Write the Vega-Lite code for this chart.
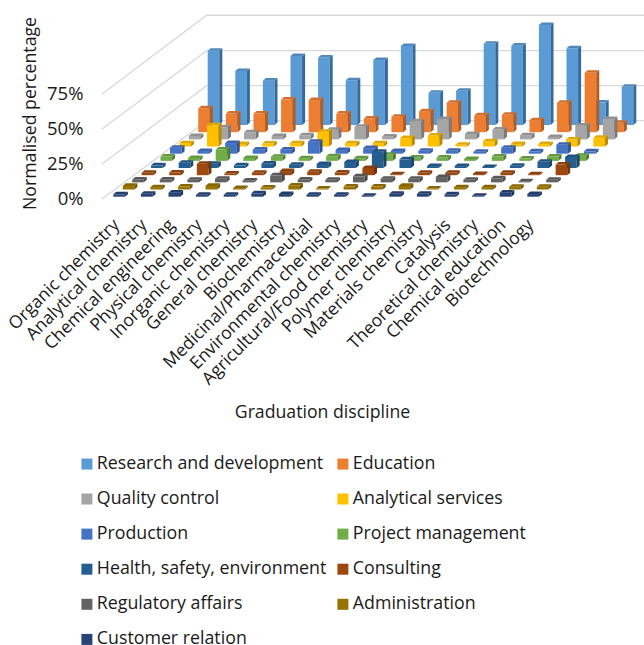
{"$schema":"https://vega.github.io/schema/vega-lite/v6.json","width":556,"height":203,"autosize":"none","padding":{"left":88,"top":0,"right":0,"bottom":442},"background":"white","config":{"view":{"stroke":null},"font":"Open Sans","axis":{"labelFont":"Open Sans","titleFont":"Open Sans"},"legend":{"labelFont":"Open Sans"}},
"encoding":{"x":{"field":"xu","type":"quantitative","scale":{"domain":[-0.917,19.228],"nice":false,"zero":false},"axis":{"values":[0,1,2,3,4,5,6,7,8,9,10,11,12,13,14,15],"labelExpr":"['Organic chemistry','Analytical chemistry','Chemical engineering','Physical chemistry','Inorganic chemistry','General chemistry','Biochemistry','Medicinal/Pharmaceutial','Environmental chemistry','Agricultural/Food chemistry','Polymer chemistry','Materials chemistry','Catalysis','Theoretical chemistry','Chemical education','Biotechnology'][datum.value]","labelAngle":-45,"labelAlign":"right","labelBaseline":"middle","labelOffset":3,"labelPadding":19,"labelFontSize":17.5,"labelColor":"#1a1a1a","labelOverlap":false,"labelBound":false,"labelFlush":false,"labelLimit":400,"grid":false,"ticks":false,"domain":false,"title":"Graduation discipline","titleFontSize":17.7,"titleFontWeight":"normal","titleColor":"#1a1a1a","titleX":234,"titleY":209,"titleAlign":"center","titleBaseline":"middle"}},"y":{"field":"yv","type":"quantitative","scale":{"domain":[-4.5,140.5],"nice":false,"zero":false},"axis":{"values":[0,25,50,75],"labelExpr":"datum.value + '%'","labelFontSize":18.5,"labelColor":"#1a1a1a","labelPadding":5,"labelOffset":1.5,"grid":false,"ticks":false,"domain":false,"title":"Normalised percentage","titleFontSize":17.7,"titleFontWeight":"normal","titleColor":"#1a1a1a","titleX":-58,"titleY":113,"titleAlign":"center","titleBaseline":"middle"}}},
"layer":[{"data":{"values":[{"level":0,"xu":-0.42,"yv":-1.86},{"level":0,"xu":3.384,"yv":54.3},{"level":0,"xu":19.228,"yv":54.3},{"level":25,"xu":-0.42,"yv":23.14},{"level":25,"xu":3.384,"yv":79.3},{"level":25,"xu":19.228,"yv":79.3},{"level":50,"xu":-0.42,"yv":48.14},{"level":50,"xu":3.384,"yv":104.3},{"level":50,"xu":19.228,"yv":104.3},{"level":75,"xu":-0.42,"yv":73.14},{"level":75,"xu":3.384,"yv":129.6},{"level":75,"xu":19.228,"yv":129.6}]},"mark":{"type":"line","color":"#d9d9d9","strokeWidth":1.3},"encoding":{"detail":{"field":"level"}}},
{"data":{"values":[
{"d":"Organic chemistry","s":"Research and development","v":53},{"d":"Analytical chemistry","s":"Research and development","v":38.6},{"d":"Chemical engineering","s":"Research and development","v":31.7},{"d":"Physical chemistry","s":"Research and development","v":49.3},{"d":"Inorganic chemistry","s":"Research and development","v":48.3},{"d":"General chemistry","s":"Research and development","v":32},{"d":"Biochemistry","s":"Research and development","v":46.4},{"d":"Medicinal/Pharmaceutial","s":"Research and development","v":56.4},{"d":"Environmental chemistry","s":"Research and development","v":23},{"d":"Agricultural/Food chemistry","s":"Research and development","v":24.5},{"d":"Polymer chemistry","s":"Research and development","v":58},{"d":"Materials chemistry","s":"Research and development","v":56.7},{"d":"Catalysis","s":"Research and development","v":71.4},{"d":"Theoretical chemistry","s":"Research and development","v":54.8},{"d":"Chemical education","s":"Research and development","v":16},{"d":"Biotechnology","s":"Research and development","v":27.4},
{"d":"Organic chemistry","s":"Education","v":17},{"d":"Analytical chemistry","s":"Education","v":13.3},{"d":"Chemical engineering","s":"Education","v":13.3},{"d":"Physical chemistry","s":"Education","v":23.3},{"d":"Inorganic chemistry","s":"Education","v":22.9},{"d":"General chemistry","s":"Education","v":13.3},{"d":"Biochemistry","s":"Education","v":9.8},{"d":"Medicinal/Pharmaceutial","s":"Education","v":11},{"d":"Environmental chemistry","s":"Education","v":15},{"d":"Agricultural/Food chemistry","s":"Education","v":21},{"d":"Polymer chemistry","s":"Education","v":12},{"d":"Materials chemistry","s":"Education","v":12.4},{"d":"Catalysis","s":"Education","v":8.6},{"d":"Theoretical chemistry","s":"Education","v":21},{"d":"Chemical education","s":"Education","v":42.4},{"d":"Biotechnology","s":"Education","v":6.7},
{"d":"Organic chemistry","s":"Quality control","v":2.4},{"d":"Analytical chemistry","s":"Quality control","v":8.6},{"d":"Chemical engineering","s":"Quality control","v":5},{"d":"Physical chemistry","s":"Quality control","v":2.4},{"d":"Inorganic chemistry","s":"Quality control","v":2.9},{"d":"General chemistry","s":"Quality control","v":6.9},{"d":"Biochemistry","s":"Quality control","v":9},{"d":"Medicinal/Pharmaceutial","s":"Quality control","v":2.1},{"d":"Environmental chemistry","s":"Quality control","v":13},{"d":"Agricultural/Food chemistry","s":"Quality control","v":14.5},{"d":"Polymer chemistry","s":"Quality control","v":3.8},{"d":"Materials chemistry","s":"Quality control","v":7},{"d":"Catalysis","s":"Quality control","v":3},{"d":"Theoretical chemistry","s":"Quality control","v":1.7},{"d":"Chemical education","s":"Quality control","v":9.8},{"d":"Biotechnology","s":"Quality control","v":14.5},
{"d":"Organic chemistry","s":"Analytical services","v":2.4},{"d":"Analytical chemistry","s":"Analytical services","v":15.2},{"d":"Chemical engineering","s":"Analytical services","v":1.7},{"d":"Physical chemistry","s":"Analytical services","v":2.1},{"d":"Inorganic chemistry","s":"Analytical services","v":2.4},{"d":"General chemistry","s":"Analytical services","v":10.5},{"d":"Biochemistry","s":"Analytical services","v":2.4},{"d":"Medicinal/Pharmaceutial","s":"Analytical services","v":2.4},{"d":"Environmental chemistry","s":"Analytical services","v":6},{"d":"Agricultural/Food chemistry","s":"Analytical services","v":7.9},{"d":"Polymer chemistry","s":"Analytical services","v":1.2},{"d":"Materials chemistry","s":"Analytical services","v":3.8},{"d":"Catalysis","s":"Analytical services","v":1.7},{"d":"Theoretical chemistry","s":"Analytical services","v":1.7},{"d":"Chemical education","s":"Analytical services","v":5},{"d":"Biotechnology","s":"Analytical services","v":6.2},
{"d":"Organic chemistry","s":"Production","v":4.3},{"d":"Analytical chemistry","s":"Production","v":1.9},{"d":"Chemical engineering","s":"Production","v":7.6},{"d":"Physical chemistry","s":"Production","v":2.9},{"d":"Inorganic chemistry","s":"Production","v":2.9},{"d":"General chemistry","s":"Production","v":8.6},{"d":"Biochemistry","s":"Production","v":2.6},{"d":"Medicinal/Pharmaceutial","s":"Production","v":4},{"d":"Environmental chemistry","s":"Production","v":1.9},{"d":"Agricultural/Food chemistry","s":"Production","v":2.1},{"d":"Polymer chemistry","s":"Production","v":2.1},{"d":"Materials chemistry","s":"Production","v":1.4},{"d":"Catalysis","s":"Production","v":4.3},{"d":"Theoretical chemistry","s":"Production","v":1.7},{"d":"Chemical education","s":"Production","v":6.4},{"d":"Biotechnology","s":"Production","v":1.7},
{"d":"Organic chemistry","s":"Project management","v":3.1},{"d":"Analytical chemistry","s":"Project management","v":2.1},{"d":"Chemical engineering","s":"Project management","v":8.1},{"d":"Physical chemistry","s":"Project management","v":2.1},{"d":"Inorganic chemistry","s":"Project management","v":2.9},{"d":"General chemistry","s":"Project management","v":1.9},{"d":"Biochemistry","s":"Project management","v":3.3},{"d":"Medicinal/Pharmaceutial","s":"Project management","v":1.9},{"d":"Environmental chemistry","s":"Project management","v":4.3},{"d":"Agricultural/Food chemistry","s":"Project management","v":2.4},{"d":"Polymer chemistry","s":"Project management","v":2.4},{"d":"Materials chemistry","s":"Project management","v":1.4},{"d":"Catalysis","s":"Project management","v":3.1},{"d":"Theoretical chemistry","s":"Project management","v":1.7},{"d":"Chemical education","s":"Project management","v":3.1},{"d":"Biotechnology","s":"Project management","v":3.6},
{"d":"Organic chemistry","s":"Health, safety, environment","v":1.9},{"d":"Analytical chemistry","s":"Health, safety, environment","v":3.8},{"d":"Chemical engineering","s":"Health, safety, environment","v":3.1},{"d":"Physical chemistry","s":"Health, safety, environment","v":1.9},{"d":"Inorganic chemistry","s":"Health, safety, environment","v":3.3},{"d":"General chemistry","s":"Health, safety, environment","v":2.4},{"d":"Biochemistry","s":"Health, safety, environment","v":2.9},{"d":"Medicinal/Pharmaceutial","s":"Health, safety, environment","v":4.3},{"d":"Environmental chemistry","s":"Health, safety, environment","v":11.7},{"d":"Agricultural/Food chemistry","s":"Health, safety, environment","v":6.2},{"d":"Polymer chemistry","s":"Health, safety, environment","v":1.4},{"d":"Materials chemistry","s":"Health, safety, environment","v":1.4},{"d":"Catalysis","s":"Health, safety, environment","v":0.7},{"d":"Theoretical chemistry","s":"Health, safety, environment","v":1.7},{"d":"Chemical education","s":"Health, safety, environment","v":4.5},{"d":"Biotechnology","s":"Health, safety, environment","v":7.9},
{"d":"Organic chemistry","s":"Consulting","v":1.7},{"d":"Analytical chemistry","s":"Consulting","v":1.9},{"d":"Chemical engineering","s":"Consulting","v":8.1},{"d":"Physical chemistry","s":"Consulting","v":1.2},{"d":"Inorganic chemistry","s":"Consulting","v":1.7},{"d":"General chemistry","s":"Consulting","v":2.9},{"d":"Biochemistry","s":"Consulting","v":2.4},{"d":"Medicinal/Pharmaceutial","s":"Consulting","v":1.9},{"d":"Environmental chemistry","s":"Consulting","v":5.2},{"d":"Agricultural/Food chemistry","s":"Consulting","v":0.7},{"d":"Polymer chemistry","s":"Consulting","v":1.7},{"d":"Materials chemistry","s":"Consulting","v":1.7},{"d":"Catalysis","s":"Consulting","v":0.8},{"d":"Theoretical chemistry","s":"Consulting","v":1.7},{"d":"Chemical education","s":"Consulting","v":0.7},{"d":"Biotechnology","s":"Consulting","v":7.6},
{"d":"Organic chemistry","s":"Regulatory affairs","v":2.1},{"d":"Analytical chemistry","s":"Regulatory affairs","v":2.1},{"d":"Chemical engineering","s":"Regulatory affairs","v":1.9},{"d":"Physical chemistry","s":"Regulatory affairs","v":2.6},{"d":"Inorganic chemistry","s":"Regulatory affairs","v":1.4},{"d":"General chemistry","s":"Regulatory affairs","v":5},{"d":"Biochemistry","s":"Regulatory affairs","v":2.1},{"d":"Medicinal/Pharmaceutial","s":"Regulatory affairs","v":1.9},{"d":"Environmental chemistry","s":"Regulatory affairs","v":4.3},{"d":"Agricultural/Food chemistry","s":"Regulatory affairs","v":2.6},{"d":"Polymer chemistry","s":"Regulatory affairs","v":2.6},{"d":"Materials chemistry","s":"Regulatory affairs","v":3.8},{"d":"Catalysis","s":"Regulatory affairs","v":1.9},{"d":"Theoretical chemistry","s":"Regulatory affairs","v":2.9},{"d":"Chemical education","s":"Regulatory affairs","v":0.7},{"d":"Biotechnology","s":"Regulatory affairs","v":1.9},
{"d":"Organic chemistry","s":"Administration","v":2.6},{"d":"Analytical chemistry","s":"Administration","v":1.7},{"d":"Chemical engineering","s":"Administration","v":2.1},{"d":"Physical chemistry","s":"Administration","v":2.6},{"d":"Inorganic chemistry","s":"Administration","v":1},{"d":"General chemistry","s":"Administration","v":1.4},{"d":"Biochemistry","s":"Administration","v":2.9},{"d":"Medicinal/Pharmaceutial","s":"Administration","v":0.7},{"d":"Environmental chemistry","s":"Administration","v":2.1},{"d":"Agricultural/Food chemistry","s":"Administration","v":2.1},{"d":"Polymer chemistry","s":"Administration","v":2.6},{"d":"Materials chemistry","s":"Administration","v":0.7},{"d":"Catalysis","s":"Administration","v":1.7},{"d":"Theoretical chemistry","s":"Administration","v":1.7},{"d":"Chemical education","s":"Administration","v":1.9},{"d":"Biotechnology","s":"Administration","v":1.9},
{"d":"Organic chemistry","s":"Customer relation","v":1.7},{"d":"Analytical chemistry","s":"Customer relation","v":2.1},{"d":"Chemical engineering","s":"Customer relation","v":2.9},{"d":"Physical chemistry","s":"Customer relation","v":1.4},{"d":"Inorganic chemistry","s":"Customer relation","v":1.4},{"d":"General chemistry","s":"Customer relation","v":2.4},{"d":"Biochemistry","s":"Customer relation","v":1.9},{"d":"Medicinal/Pharmaceutial","s":"Customer relation","v":1.4},{"d":"Environmental chemistry","s":"Customer relation","v":1.4},{"d":"Agricultural/Food chemistry","s":"Customer relation","v":0.7},{"d":"Polymer chemistry","s":"Customer relation","v":2.1},{"d":"Materials chemistry","s":"Customer relation","v":2.1},{"d":"Catalysis","s":"Customer relation","v":1.7},{"d":"Theoretical chemistry","s":"Customer relation","v":0.7},{"d":"Chemical education","s":"Customer relation","v":2.9},{"d":"Biotechnology","s":"Customer relation","v":1.9}
]},
"transform":[
{"calculate":"indexof(['Organic chemistry','Analytical chemistry','Chemical engineering','Physical chemistry','Inorganic chemistry','General chemistry','Biochemistry','Medicinal/Pharmaceutial','Environmental chemistry','Agricultural/Food chemistry','Polymer chemistry','Materials chemistry','Catalysis','Theoretical chemistry','Chemical education','Biotechnology'],datum.d)","as":"i"},
{"calculate":"10-indexof(['Research and development','Education','Quality control','Analytical services','Production','Project management','Health, safety, environment','Consulting','Regulatory affairs','Administration','Customer relation'],datum.s)","as":"r"},
{"calculate":"sequence(8)","as":"k"},
{"flatten":["k"]},
{"calculate":"datum.k<2?'front':(datum.k<4?'side':'top')","as":"face"},
{"calculate":"datum.s+'|'+datum.face","as":"ck"},
{"calculate":"datum.s+'|'+datum.d+'|'+datum.face","as":"id"},
{"calculate":"datum.i+datum.r*0.342","as":"l"},
{"calculate":"datum.r*5.12","as":"b"},
{"calculate":"datum.b+datum.v","as":"t"},
{"calculate":"(datum.k==0||datum.k==4)?datum.l:(datum.k==5?datum.l+0.109:((datum.k==1||datum.k==2||datum.k==6)?datum.l+0.42:datum.l+0.529))","as":"xu"},
{"calculate":"(datum.k==0||datum.k==1||datum.k==2||datum.k==4)?datum.t:datum.t+1.8","as":"yv"},
{"calculate":"datum.k<3?datum.b:(datum.k==3?datum.b+1.8:(datum.k==7?datum.t+1.8:datum.t))","as":"yb"}
],
"mark":{"type":"area","orient":"vertical","interpolate":"linear"},
"encoding":{"y2":{"field":"yb"},"detail":{"field":"id"},"color":{"field":"ck","type":"nominal","scale":{"domain":["Research and development|front","Research and development|side","Research and development|top","Education|front","Education|side","Education|top","Quality control|front","Quality control|side","Quality control|top","Analytical services|front","Analytical services|side","Analytical services|top","Production|front","Production|side","Production|top","Project management|front","Project management|side","Project management|top","Health, safety, environment|front","Health, safety, environment|side","Health, safety, environment|top","Consulting|front","Consulting|side","Consulting|top","Regulatory affairs|front","Regulatory affairs|side","Regulatory affairs|top","Administration|front","Administration|side","Administration|top","Customer relation|front","Customer relation|side","Customer relation|top"],"range":["#5B9BD5","#356a9c","#5088BB","#ED7D31","#b05c23","#D16E2B","#A5A5A5","#7a7a7a","#919191","#FFC000","#b88a00","#E0A900","#4472C4","#315390","#3C64AC","#70AD47","#517d33","#63983E","#255E91","#1b4469","#215380","#9E480E","#72340a","#8B3F0C","#636363","#484848","#575757","#997300","#6f5300","#876500","#264478","#1c3157","#223C6A"]},
"legend":{"values":["Research and development|front","Education|front","Quality control|front","Analytical services|front","Production|front","Project management|front","Health, safety, environment|front","Consulting|front","Regulatory affairs|front","Administration|front","Customer relation|front"],"labelExpr":"split(datum.value,'|')[0]","title":null,"orient":"none","direction":"horizontal","legendX":-10,"legendY":455,"columns":2,"symbolType":"square","symbolSize":121,"labelFontSize":17.8,"labelColor":"#1a1a1a","labelLimit":400,"rowPadding":16.1,"columnPadding":7,"symbolStrokeWidth":0,"labelOffset":1}}}}
]}
